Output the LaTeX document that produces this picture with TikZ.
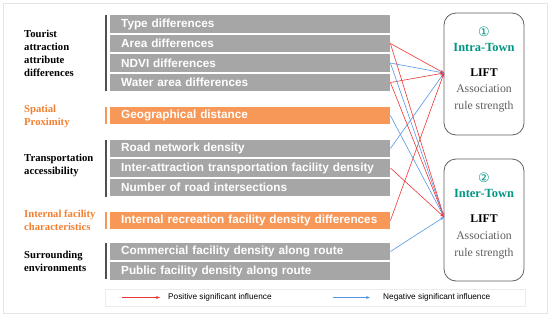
\documentclass[tikz,border=0pt]{standalone}
\usepackage{fontspec}
\setmainfont{Liberation Serif}
\setsansfont{Liberation Sans}
\newfontfamily\symfont{DejaVu Sans}
\usetikzlibrary{arrows.meta,shadows}
\definecolor{bargray}{RGB}{166,166,166}
\definecolor{barorange}{RGB}{248,152,88}
\definecolor{txtorange}{RGB}{242,128,48}
\definecolor{teal2}{RGB}{0,150,130}
\definecolor{posred}{RGB}{238,52,52}
\definecolor{negblue}{RGB}{84,150,230}
\definecolor{sidegray}{RGB}{80,80,80}
\tikzset{
  bar/.style={anchor=west, minimum height=17.5bp, text width=258bp, inner xsep=11bp, inner ysep=0pt,
    align=left, text=white, font=\sffamily\bfseries\fontsize{11.8}{12}\selectfont},
  graybar/.style={bar, fill=bargray},
  orangebar/.style={bar, fill=barorange},
  cat/.style={anchor=west, align=left, font=\bfseries\fontsize{10.7}{13}\selectfont, inner sep=0pt},
  sideline/.style={line width=2bp, sidegray},
  sideorange/.style={line width=2bp, barorange},
  resbox/.style={draw=gray!75!black, line width=0.8bp, rounded corners=12bp, minimum width=80bp, minimum height=122bp, fill=white},
  posarrow/.style={posred, line width=0.6bp, -{Stealth[length=4bp,width=3bp]}},
  negarrow/.style={negblue, line width=0.6bp, -{Stealth[length=4bp,width=3bp]}},
  legtext/.style={anchor=west, font=\sffamily\fontsize{8.3}{10}\selectfont, inner sep=0pt}
}
\begin{document}
\begin{tikzpicture}[x=1bp,y=-1bp]
\useasboundingbox (0,0) rectangle (550,319);
\draw[gray!20, line width=0.8bp] (3,3) rectangle (547,313);

% category labels
\node[cat] (c1) at (24,53) {Tourist\\attraction\\attribute\\differences};
\node[cat, text=txtorange] (c2) at (24,116) {Spatial\\Proximity};
\node[cat] (c3) at (24,165) {Transportation\\accessibility};
\node[cat, text=txtorange] (c4) at (24,220) {Internal facility\\characteristics};
\node[cat] (c5) at (24,261.5) {Surrounding\\environments};

% side lines
\draw[sideline] (106,15) -- (106,91);
\draw[sideorange] (106,107) -- (106,124);
\draw[sideline] (106,140) -- (106,197);
\draw[sideorange] (106,212) -- (106,229);
\draw[sideline] (106,243) -- (106,279);

% bars
\node[graybar] (b1) at (110,24) {Type differences};
\node[graybar] (b2) at (110,43.5) {Area differences};
\node[graybar] (b3) at (110,63) {NDVI differences};
\node[graybar] (b4) at (110,82.5) {Water area differences};
\node[orangebar] (b5) at (110,115.5) {Geographical distance};
\node[graybar] (b6) at (110,148.5) {Road network density};
\node[graybar] (b7) at (110,168) {\mbox{Inter-attraction transportation facility density}};
\node[graybar] (b8) at (110,187.5) {Number of road intersections};
\node[orangebar] (b9) at (110,220.5) {\mbox{Internal recreation facility density differences}};
\node[graybar] (b10) at (110,251.5) {Commercial facility density along route};
\node[graybar] (b11) at (110,271) {Public facility density along route};

% result boxes
\node[resbox] (r1) at (484,74) {};
\node[resbox] (r2) at (484,220) {};
\node[text=teal2, font=\symfont\fontsize{13}{13}\selectfont, inner sep=0pt] (n1) at (484,32) {①};
\node[text=teal2, font=\bfseries\fontsize{12.5}{13}\selectfont, inner sep=0pt] (it1) at (484,47) {Intra-Town};
\node[font=\bfseries\fontsize{11.8}{12}\selectfont, inner sep=0pt] (l1) at (484,72.5) {LIFT};
\node[text=gray!75!black, font=\fontsize{11.8}{17}\selectfont, align=center, inner sep=0pt] (a1) at (484,98) {Association\\rule strength};
\node[text=teal2, font=\symfont\fontsize{13}{13}\selectfont, inner sep=0pt] (n2) at (484,178) {②};
\node[text=teal2, font=\bfseries\fontsize{12.5}{13}\selectfont, inner sep=0pt] (it2) at (484,193) {Inter-Town};
\node[font=\bfseries\fontsize{11.8}{12}\selectfont, inner sep=0pt] (l2) at (484,218.5) {LIFT};
\node[text=gray!75!black, font=\fontsize{11.8}{17}\selectfont, align=center, inner sep=0pt] (a2) at (484,245.5) {Association\\rule strength};

\coordinate (t1) at (444,73);
\coordinate (t2) at (444,217);

% connectors to Intra-Town
\draw[posarrow] (b2.east) -- (t1);
\draw[negarrow] (b3.east) -- (t1);
\draw[posarrow] (b4.east) -- (t1);
\draw[negarrow] (b6.east) -- (t1);
\draw[posarrow] (b9.east) -- (t1);
% connectors to Inter-Town
\draw[posarrow] (b2.east) -- (t2);
\draw[negarrow] (b3.east) -- (t2);
\draw[posarrow] (b4.east) -- (t2);
\draw[negarrow] (b5.east) -- (t2);
\draw[posarrow] (b7.east) -- (t2);
\draw[negarrow] (b10.east) -- (t2);

% legend
\node[draw=gray!15, fill=white, drop shadow={shadow xshift=1.2bp, shadow yshift=-1.5bp, fill=gray!60}, minimum width=420bp, minimum height=16.5bp, anchor=north west, inner sep=0pt] (leg) at (105,289) {};
\coordinate (p1) at (122,297.5);
\coordinate (p2) at (160,297.5);
\draw[posarrow] (p1) -- (p2);
\node[legtext] (lp) at (168,297.5) {Positive significant influence};
\coordinate (q1) at (333,297.5);
\coordinate (q2) at (370,297.5);
\draw[negarrow] (q1) -- (q2);
\node[legtext] (lq) at (383,297.5) {Negative significant influence};
\end{tikzpicture}
\end{document}
